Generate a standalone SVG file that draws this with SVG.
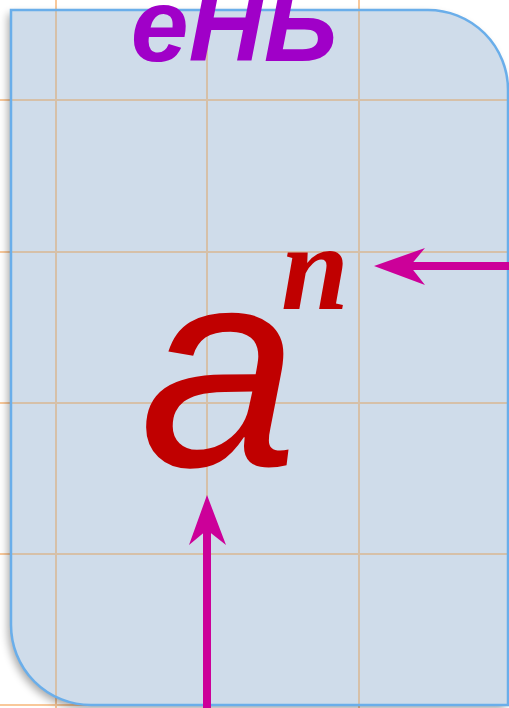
<svg xmlns="http://www.w3.org/2000/svg" width="509" height="708" viewBox="0 0 509 708">
<defs>
<style>
.gridout{stroke:#f9c89a;stroke-width:2;fill:none}
.gridin{stroke:#d6c0a8;stroke-width:2;fill:none}
.conn{stroke:#cc0099;stroke-width:8;fill:none}
</style>
<filter id="sh" x="-10%" y="-10%" width="120%" height="120%">
<feGaussianBlur in="SourceAlpha" stdDeviation="4"/>
<feOffset dx="-3" dy="4" result="b"/>
<feComponentTransfer><feFuncA type="linear" slope="0.35"/></feComponentTransfer>
<feMerge><feMergeNode/><feMergeNode in="SourceGraphic"/></feMerge>
</filter>
<clipPath id="pc"><path d="M11,10 H428 A80,80 0 0 1 508,90 V705 H91 A80,80 0 0 1 11,625 Z"/></clipPath>
</defs>
<rect width="509" height="708" fill="#ffffff"/>
<g id="grid-outer" class="gridout">
<line x1="56" y1="0" x2="56" y2="708"/>
<line x1="207" y1="0" x2="207" y2="708"/>
<line x1="359" y1="0" x2="359" y2="708"/>
<line x1="0" y1="100" x2="509" y2="100"/>
<line x1="0" y1="252" x2="509" y2="252"/>
<line x1="0" y1="403" x2="509" y2="403"/>
<line x1="0" y1="554" x2="509" y2="554"/>
<line x1="0" y1="705" x2="509" y2="705"/>
</g>
<g id="panel">
<path d="M11,10 H428 A80,80 0 0 1 508,90 V705 H91 A80,80 0 0 1 11,625 Z" fill="#cfdcea" filter="url(#sh)"/>
<g class="gridin" clip-path="url(#pc)">
<line x1="56" y1="0" x2="56" y2="708"/>
<line x1="207" y1="0" x2="207" y2="708"/>
<line x1="359" y1="0" x2="359" y2="708"/>
<line x1="0" y1="100" x2="509" y2="100"/>
<line x1="0" y1="252" x2="509" y2="252"/>
<line x1="0" y1="403" x2="509" y2="403"/>
<line x1="0" y1="554" x2="509" y2="554"/>
</g>
<path d="M11,10 H428 A80,80 0 0 1 508,90 V705 H91 A80,80 0 0 1 11,625 Z" fill="none" stroke="#6aaeea" stroke-width="2.5"/>
</g>
<g id="title">
<text x="234" y="61" text-anchor="middle" font-family="Liberation Sans, Arial, sans-serif" font-weight="bold" font-style="italic" font-size="104" fill="#a000c8">еНЬ</text>
</g>
<g id="base">
<text x="219" y="466" text-anchor="middle" font-family="Liberation Sans, Arial, sans-serif" font-style="italic" font-size="285" fill="#c00000">a</text>
</g>
<g id="exponent">
<text x="315" y="309" text-anchor="middle" font-family="Liberation Serif, Times New Roman, serif" font-weight="bold" font-style="italic" font-size="122" fill="#c00000">n</text>
</g>
<g id="connectors">
<line class="conn" x1="509" y1="266" x2="405" y2="266"/>
<path d="M374,266 L425,248 L410,266 L425,285 Z" fill="#cc0099"/>
<line class="conn" x1="207" y1="708" x2="207" y2="525"/>
<path d="M207,495 L189,545 L207,530 L226,545 Z" fill="#cc0099"/>
</g>
</svg>
